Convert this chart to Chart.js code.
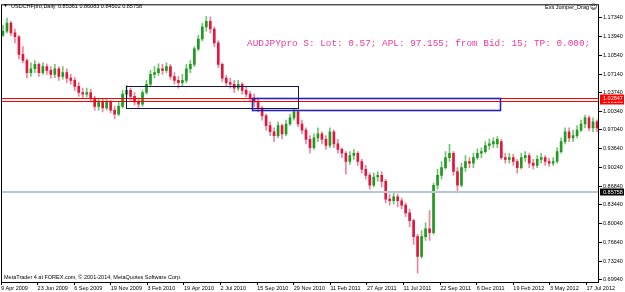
<!DOCTYPE html>
<html>
<head>
<meta charset="utf-8">
<title>USDCHFpro,Daily</title>
<script src="https://cdn.jsdelivr.net/npm/chart.js@4.4.1/dist/chart.umd.min.js"></script>
<style>
  html, body { margin: 0; padding: 0; background: #fff; }
  canvas { display: block; }
</style>
</head>
<body>
<canvas id="price-chart" width="625" height="292"></canvas>
<script>
// candles (each one covers roughly a week), oldest first
const opens = [
  1.142,1.149,1.164,1.146,1.139,1.107,1.096,1.074,1.081,1.089,
  1.074,1.085,1.078,1.071,1.081,1.067,1.074,1.064,1.060,1.049,
  1.038,1.035,1.038,1.028,1.013,1.021,1.010,1.021,1.006,0.999,
  1.013,1.035,1.042,1.031,1.021,1.017,1.038,1.053,1.071,1.074,
  1.081,1.078,1.085,1.067,1.060,1.056,1.060,1.081,1.089,1.117,
  1.135,1.157,1.167,1.153,1.128,1.089,1.064,1.056,1.053,1.046,
  1.053,1.042,1.035,1.028,1.021,1.010,0.996,0.978,0.967,0.960,
  0.978,0.963,0.981,0.992,1.003,0.981,0.970,0.953,0.938,0.956,
  0.963,0.953,0.942,0.967,0.945,0.935,0.928,0.913,0.924,0.928,
  0.913,0.899,0.888,0.870,0.885,0.888,0.877,0.845,0.842,0.849,
  0.842,0.834,0.820,0.806,0.777,0.741,0.777,0.791,0.784,0.870,
  0.888,0.902,0.920,0.928,0.895,0.870,0.902,0.913,0.910,0.920,
  0.928,0.931,0.942,0.945,0.945,0.949,0.920,0.917,0.920,0.913,
  0.902,0.920,0.924,0.910,0.906,0.917,0.920,0.913,0.910,0.913,
  0.931,0.949,0.967,0.956,0.960,0.970,0.981,0.992,0.974,0.985
];
const highs = [
  1.160,1.173,1.167,1.153,1.141,1.121,1.099,1.092,1.096,1.092,
  1.092,1.090,1.085,1.089,1.085,1.085,1.081,1.071,1.065,1.056,
  1.046,1.046,1.044,1.031,1.028,1.026,1.028,1.024,1.013,1.021,
  1.042,1.051,1.046,1.038,1.028,1.042,1.060,1.078,1.085,1.090,
  1.089,1.092,1.089,1.074,1.067,1.071,1.089,1.096,1.121,1.142,
  1.164,1.176,1.175,1.157,1.132,1.092,1.069,1.064,1.060,1.060,
  1.056,1.049,1.040,1.035,1.028,1.013,0.999,0.985,0.974,0.985,
  0.981,0.988,0.999,1.010,1.006,0.988,0.974,0.960,0.963,0.974,
  0.967,0.960,0.974,0.970,0.953,0.938,0.931,0.931,0.935,0.931,
  0.917,0.906,0.892,0.892,0.895,0.895,0.881,0.854,0.858,0.854,
  0.847,0.838,0.827,0.809,0.781,0.788,0.802,0.824,0.874,0.899,
  0.913,0.931,0.944,0.931,0.902,0.910,0.924,0.920,0.928,0.936,
  0.938,0.949,0.954,0.956,0.958,0.953,0.928,0.928,0.926,0.917,
  0.928,0.931,0.928,0.917,0.924,0.928,0.924,0.919,0.920,0.938,
  0.956,0.974,0.974,0.970,0.978,0.988,0.997,0.996,0.992,0.988
];
const lows = [
  1.139,1.146,1.141,1.128,1.099,1.092,1.064,1.067,1.074,1.067,
  1.071,1.071,1.064,1.065,1.060,1.062,1.056,1.053,1.042,1.031,
  1.028,1.030,1.021,1.006,1.006,1.003,1.006,1.001,0.990,0.996,
  1.010,1.028,1.024,1.015,1.010,1.013,1.035,1.049,1.064,1.069,
  1.071,1.074,1.062,1.053,1.046,1.049,1.056,1.074,1.085,1.114,
  1.132,1.149,1.146,1.121,1.083,1.058,1.049,1.046,1.038,1.042,
  1.035,1.030,1.021,1.013,1.003,0.988,0.970,0.960,0.949,0.956,
  0.954,0.960,0.978,0.988,0.976,0.963,0.945,0.928,0.935,0.949,
  0.945,0.935,0.938,0.938,0.928,0.920,0.890,0.908,0.917,0.906,
  0.892,0.881,0.863,0.867,0.877,0.867,0.838,0.834,0.836,0.831,
  0.827,0.813,0.795,0.763,0.711,0.738,0.770,0.770,0.781,0.863,
  0.881,0.899,0.913,0.888,0.856,0.867,0.895,0.902,0.902,0.917,
  0.920,0.928,0.935,0.938,0.938,0.917,0.910,0.910,0.906,0.892,
  0.899,0.913,0.902,0.899,0.902,0.910,0.906,0.904,0.906,0.910,
  0.928,0.945,0.949,0.949,0.956,0.967,0.974,0.969,0.967,0.967
];
const closes = [
  1.149,1.164,1.146,1.139,1.107,1.096,1.074,1.081,1.089,1.074,
  1.085,1.078,1.071,1.081,1.067,1.074,1.064,1.060,1.049,1.038,
  1.035,1.038,1.028,1.013,1.021,1.010,1.021,1.006,0.999,1.013,
  1.035,1.042,1.031,1.021,1.017,1.038,1.053,1.071,1.074,1.081,
  1.078,1.085,1.067,1.060,1.056,1.060,1.081,1.089,1.117,1.135,
  1.157,1.167,1.153,1.128,1.089,1.064,1.056,1.053,1.046,1.053,
  1.042,1.035,1.028,1.021,1.010,0.996,0.978,0.967,0.960,0.978,
  0.963,0.981,0.992,1.003,0.981,0.970,0.953,0.938,0.956,0.963,
  0.953,0.942,0.967,0.945,0.935,0.928,0.913,0.924,0.928,0.913,
  0.899,0.888,0.870,0.885,0.888,0.877,0.845,0.842,0.849,0.842,
  0.834,0.820,0.806,0.777,0.741,0.777,0.791,0.784,0.870,0.888,
  0.902,0.920,0.928,0.895,0.870,0.902,0.913,0.910,0.920,0.928,
  0.931,0.942,0.945,0.949,0.953,0.920,0.917,0.920,0.913,0.902,
  0.920,0.924,0.910,0.906,0.917,0.920,0.913,0.910,0.913,0.931,
  0.949,0.967,0.956,0.960,0.970,0.981,0.992,0.974,0.985,0.974
];

const dateLabels = [
  '9 Apr 2009', '23 Jun 2009', '6 Sep 2009', '19 Nov 2009', '3 Feb 2010',
  '19 Apr 2010', '2 Jul 2010', '15 Sep 2010', '29 Nov 2010', '11 Feb 2011',
  '27 Apr 2011', '11 Jul 2011', '22 Sep 2011', '6 Dec 2011', '19 Feb 2012',
  '3 May 2012', '17 Jul 2012'
];
const priceLabels = [
  '1.17340', '1.13940', '1.10540', '1.07140', '1.03740', '1.00340', '0.97040',
  '0.93640', '0.90240', '0.86840', '0.83440', '0.80040', '0.76640', '0.73240', '0.69940'
];

// horizontal levels and the two drawn boxes (candle index / price)
const redLevels = [1.02190, 1.02847];
const bidLevel = 0.85758;
const boxStarts = [30.8, 62.4];
const boxEnds = [73.9, 124.7];
const boxTops = [1.0504, 1.0282];
const boxBottoms = [1.0104, 1.0057];

const candlesPerLabel = 9.18;
const smallFont = "'Liberation Sans', Arial, sans-serif";

document.addEventListener('DOMContentLoaded', () => {
  const overlayPlugin = {
    id: 'overlay',
    afterDatasetsDraw(chart) {
      const { ctx, chartArea: area, scales: { x, y } } = chart;
      ctx.save();
      ctx.beginPath();
      ctx.rect(area.left, area.top, area.right - area.left, area.bottom - area.top);
      ctx.clip();

      // bid line
      ctx.fillStyle = '#b7c6d2';
      ctx.fillRect(area.left, Math.round(y.getPixelForValue(bidLevel)) - 1, area.right - area.left, 2);

      // red lines
      ctx.strokeStyle = '#ff0000';
      ctx.lineWidth = 1;
      redLevels.forEach(level => {
        const py = Math.round(y.getPixelForValue(level)) + 0.5;
        ctx.beginPath();
        ctx.moveTo(area.left, py);
        ctx.lineTo(area.right, py);
        ctx.stroke();
      });

      // boxes
      boxStarts.forEach((start, k) => {
        const x1 = Math.round(x.getPixelForValue(start)) + 0.5;
        const x2 = Math.round(x.getPixelForValue(boxEnds[k])) + 0.5;
        const y1 = Math.round(y.getPixelForValue(boxTops[k])) + 0.5;
        const y2 = Math.round(y.getPixelForValue(boxBottoms[k])) + 0.5;
        ctx.strokeStyle = k === 0 ? '#14145c' : '#2424b0';
        ctx.lineWidth = k === 0 ? 1 : 1.6;
        ctx.strokeRect(x1, y1, x2 - x1, y2 - y1);
      });
      ctx.restore();
    },
    afterDraw(chart) {
      const { ctx, chartArea: area, scales: { y } } = chart;
      ctx.save();

      // frame
      ctx.strokeStyle = '#000';
      ctx.lineWidth = 1;
      ctx.strokeRect(area.left + 0.5, area.top + 0.5, area.right - area.left - 1, area.bottom - area.top - 1);

      // price boxes on the axis
      const tag = (value, text, bg) => {
        const py = y.getPixelForValue(value);
        ctx.fillStyle = bg;
        ctx.fillRect(area.right + 1, Math.round(py) - 3.5, 24, 7);
        ctx.fillStyle = '#fff';
        ctx.font = `5.5px ${smallFont}`;
        ctx.textBaseline = 'middle';
        ctx.textAlign = 'left';
        ctx.fillText(text, area.right + 4, Math.round(py) + 0.2);
      };
      tag(redLevels[0], redLevels[0].toFixed(5), '#ff0000');
      tag(redLevels[1], redLevels[1].toFixed(5), '#ff0000');
      tag(bidLevel, bidLevel.toFixed(5), '#000');

      // texts
      ctx.fillStyle = '#000';
      ctx.textBaseline = 'middle';
      ctx.font = `5px ${smallFont}`;
      ctx.fillText('\u25BC', 3, 6);
      ctx.font = `5.5px ${smallFont}`;
      ctx.fillText('USDCHFpro,Daily', 11, 6);
      ctx.fillText('0.85361 0.86083 0.84502 0.85758', 58, 6);
      ctx.textAlign = 'right';
      ctx.fillText('Exit Jumper_Drag', 589, 7);
      ctx.textAlign = 'left';
      ctx.font = `7px 'DejaVu Sans', sans-serif`;
      ctx.fillText('\u263A', 590, 7);
      ctx.font = `5.5px ${smallFont}`;
      ctx.fillText('MetaTrader 4 at FOREX.com, \u00A9 2001-2014, MetaQuotes Software Corp.', 4, 277);

      ctx.fillStyle = '#f0399b';
      ctx.font = "9.4px 'Liberation Mono', 'Courier New', monospace";
      ctx.fillText('AUDJPYpro S: Lot: 0.57; APL: 97.155; from Bid: 15; TP: 0.000;', 247, 43.5);
      ctx.restore();
    }
  };

  const isUp = i => closes[i] >= opens[i];

  new Chart(document.getElementById('price-chart'), {
    type: 'bar',
    data: {
      datasets: [
        {
          label: 'body',
          data: closes.map((c, i) => ({ x: i, y: [opens[i], c] })),
          backgroundColor: ctx => (isUp(ctx.dataIndex) ? '#219a21' : '#e3173e'),
          barThickness: 2,
          minBarLength: 1,
          grouped: false,
          order: 0
        },
        {
          label: 'wick',
          data: highs.map((h, i) => ({ x: i, y: [lows[i], h] })),
          backgroundColor: ctx => (isUp(ctx.dataIndex) ? '#72c472' : '#f0849c'),
          barThickness: 1,
          grouped: false,
          order: 1
        }
      ]
    },
    options: {
      responsive: false,
      animation: false,
      devicePixelRatio: 1,
      layout: { padding: { left: 1, top: 1, right: 0, bottom: 0 } },
      plugins: { legend: { display: false }, tooltip: { enabled: false } },
      scales: {
        x: {
          type: 'linear',
          min: -0.5,
          max: closes.length - 0.5,
          offset: false,
          border: { display: false },
          grid: { drawOnChartArea: false, drawTicks: true, tickLength: 2, color: '#000', offset: false },
          ticks: {
            autoSkip: false, maxRotation: 0, minRotation: 0, align: 'start', padding: 0,
            color: '#000', font: { family: smallFont, size: 5.5 },
            callback: (value, index) => dateLabels[index]
          },
          afterBuildTicks: scale => {
            scale.ticks = dateLabels.map((_, k) => ({ value: -0.5 + k * candlesPerLabel }));
          },
          afterFit: scale => { scale.height = 9; }
        },
        y: {
          type: 'linear',
          position: 'right',
          min: 0.6930,
          max: 1.1978,
          border: { display: false },
          grid: { drawOnChartArea: false, drawTicks: true, tickLength: 3, color: '#000' },
          ticks: {
            padding: 1, color: '#000', font: { family: smallFont, size: 5.5 },
            callback: (value, index) => priceLabels[index]
          },
          afterBuildTicks: scale => {
            scale.ticks = priceLabels.map(t => ({ value: parseFloat(t) }));
          },
          afterFit: scale => { scale.width = 26; }
        }
      }
    },
    plugins: [overlayPlugin]
  });
});
</script>
</body>
</html>
